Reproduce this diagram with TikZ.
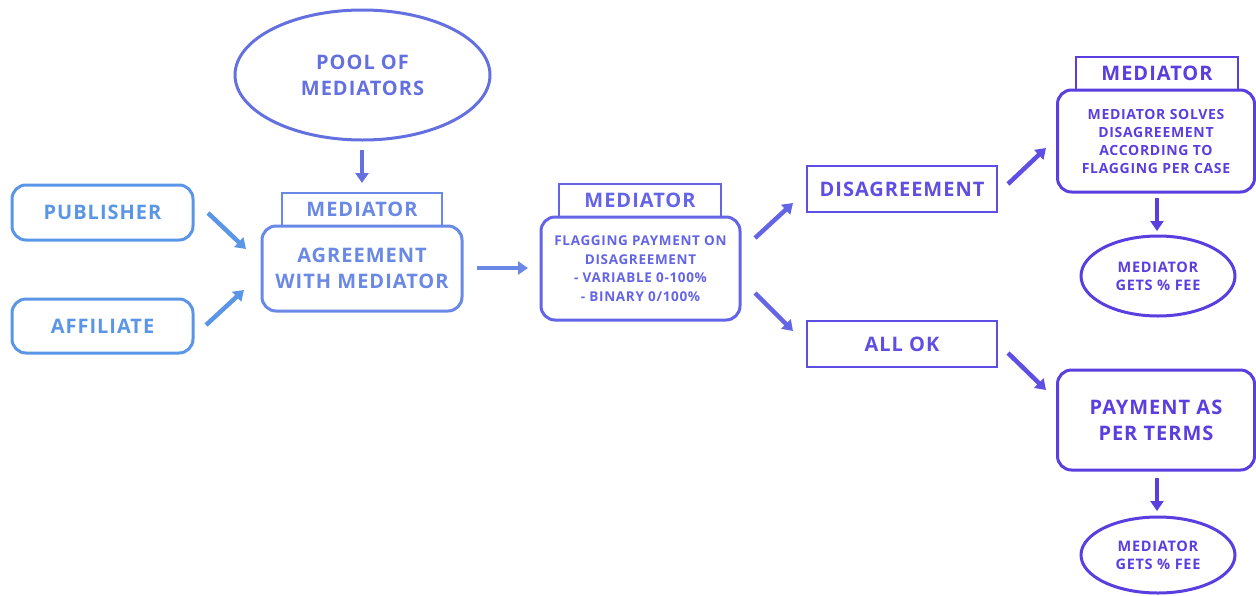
\documentclass[tikz,border=0pt]{standalone}
\usepackage{fontspec}
\setmainfont[LetterSpace=5]{Open Sans}
\usetikzlibrary{arrows.meta,shapes.geometric}
\definecolor{cA}{HTML}{5B96E6}
\definecolor{cB}{HTML}{6A88E6}
\definecolor{cP}{HTML}{6470E0}
\definecolor{cC}{HTML}{6464E6}
\definecolor{cD}{HTML}{5E4EE4}
\definecolor{cE}{HTML}{5A3EE0}
\tikzset{
  rbox/.style={draw,line width=3pt,rounded corners=14pt,inner sep=0pt,align=center,font=\bfseries},
  sbox/.style={draw,line width=2.6pt,inner sep=0pt,align=center,font=\bfseries},
  ell/.style={draw,ellipse,line width=3pt,inner sep=0pt,align=center,font=\bfseries},
  arr/.style={line width=4.5pt,-{Triangle[width=13pt,length=10pt]}},
  big/.style={font=\bfseries\fontsize{20}{26}\selectfont},
}
\begin{document}
\begin{tikzpicture}[x=1pt,y=-1pt]
\useasboundingbox (0,0) rectangle (1256,595);
% left
\node[rbox,cA,big,minimum width=181pt,minimum height=55pt] (pub) at (102.5,212.5) {PUBLISHER};
\node[rbox,cA,big,minimum width=181pt,minimum height=54pt] (aff) at (102.5,326) {AFFILIATE};
% pool
\node[ell,cP,big,minimum width=255pt,minimum height=130pt] (pool) at (362.5,75) {POOL OF\\MEDIATORS};
% agreement
\node[sbox,cB,big,minimum width=160pt,minimum height=33pt] (tab1) at (362,209.5) {MEDIATOR};
\node[rbox,cB,big,minimum width=200pt,minimum height=85pt] (agr) at (362,268.5) {AGREEMENT\\WITH MEDIATOR};
% flagging
\node[sbox,cC,big,minimum width=162pt,minimum height=33pt] (tab2) at (640,200.5) {MEDIATOR};
\node[rbox,cC,minimum width=199pt,minimum height=103pt,font=\bfseries\fontsize{13.5}{18.5}\selectfont] (flag) at (640.5,268.5) {FLAGGING PAYMENT ON\\DISAGREEMENT\\- VARIABLE 0-100\%\\- BINARY 0/100\%};
% disagreement / all ok
\node[sbox,cD,big,minimum width=190pt,minimum height=46pt] (dis) at (902,189) {DISAGREEMENT};
\node[sbox,cD,big,minimum width=190pt,minimum height=46pt] (ok) at (902,344) {ALL OK};
% right top
\node[sbox,cE,big,minimum width=162pt,minimum height=33pt] (tab3) at (1157,73.5) {MEDIATOR};
\node[rbox,cE,minimum width=197pt,minimum height=102pt,font=\bfseries\fontsize{14}{18}\selectfont] (solve) at (1156,141) {MEDIATOR SOLVES\\DISAGREEMENT\\ACCORDING TO\\FLAGGING PER CASE};
\node[ell,cE,minimum width=154pt,minimum height=80pt,font=\bfseries\fontsize{14.5}{18}\selectfont] (fee1) at (1158,276) {MEDIATOR\\GETS \% FEE};
% right bottom
\node[rbox,cE,big,minimum width=197pt,minimum height=100pt] (pay) at (1156,420) {PAYMENT AS\\PER TERMS};
\node[ell,cE,minimum width=154pt,minimum height=76pt,font=\bfseries\fontsize{14.5}{18}\selectfont] (fee2) at (1158,555) {MEDIATOR\\GETS \% FEE};
% arrow end points
\coordinate (a1s) at (208,213); \coordinate (a1e) at (246,249);
\coordinate (a2s) at (206,325); \coordinate (a2e) at (244,290);
\coordinate (a3s) at (362,150); \coordinate (a3e) at (362,183);
\coordinate (a4s) at (477,268); \coordinate (a4e) at (528,268);
\coordinate (a5s) at (755,238); \coordinate (a5e) at (793,203);
\coordinate (a6s) at (755,293); \coordinate (a6e) at (793,331);
\coordinate (a7s) at (1008,184); \coordinate (a7e) at (1046,148);
\coordinate (a8s) at (1008,353); \coordinate (a8e) at (1046,390);
\coordinate (a9s) at (1157,198); \coordinate (a9e) at (1157,231);
\coordinate (a10s) at (1157,478); \coordinate (a10e) at (1157,511);
\draw[arr,cA] (a1s) -- (a1e);
\draw[arr,cA] (a2s) -- (a2e);
\draw[arr,cP] (a3s) -- (a3e);
\draw[arr,cB] (a4s) -- (a4e);
\draw[arr,cC] (a5s) -- (a5e);
\draw[arr,cC] (a6s) -- (a6e);
\draw[arr,cD] (a7s) -- (a7e);
\draw[arr,cD] (a8s) -- (a8e);
\draw[arr,cE] (a9s) -- (a9e);
\draw[arr,cE] (a10s) -- (a10e);
\end{tikzpicture}
\end{document}
